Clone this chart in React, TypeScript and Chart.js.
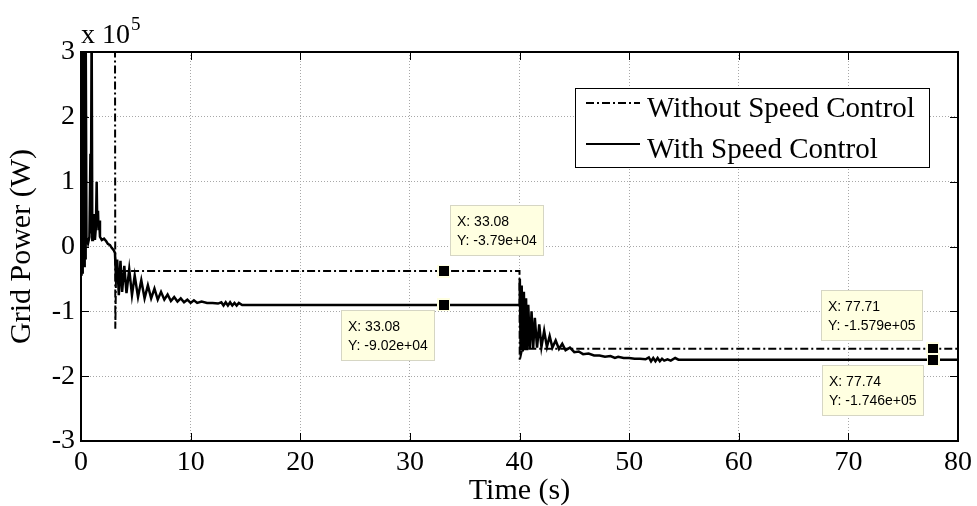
import React, { useEffect, useRef } from "react";
import { Chart, registerables } from "chart.js";

Chart.register(...registerables);

// ---------- data (power in units of 1e5 W, as on the axis) ----------
const withTime = [
  0, 0.02, 0.05, 0.08, 0.11, 0.14, 0.17, 0.2, 0.23, 0.26, 0.29, 0.32, 0.35, 0.38, 0.41, 0.44,
  0.5, 0.55, 0.64, 0.77, 0.86, 0.9, 0.97, 1.03, 1.09, 1.18, 1.27, 1.36, 1.43, 1.48, 1.55, 1.6, 1.66, 1.73, 1.9, 2.1, 2.3, 2.45, 2.65, 2.8, 3.0, 3.1,
  3.2, 3.3, 3.45, 3.6, 3.75, 3.95, 4.15, 4.4, 4.65, 4.9, 5.2, 5.5, 5.8, 6.1, 6.4, 6.7, 7.0, 7.3, 7.6, 7.9, 8.2, 8.5, 8.8, 9.1, 9.4, 9.7, 10.0, 10.3, 10.6, 11.0, 11.5, 12.0, 12.5, 12.8, 13.0, 13.2, 13.4, 13.6, 13.8, 14.0, 14.2, 14.4, 14.7, 40.0,
  40.03, 40.1, 40.2, 40.3, 40.4, 40.5, 40.6, 40.7, 40.8, 40.95, 41.1, 41.25, 41.4, 41.6, 41.8, 42.0, 42.25, 42.5, 42.75, 43.0, 43.3, 43.6, 43.9, 44.2, 44.6, 45.0, 45.4, 45.8, 46.3, 46.8, 47.3, 47.8, 48.3, 48.7, 49.0, 49.5, 50.0, 50.5, 51.0, 51.5, 51.8, 52.0, 52.2, 52.4, 52.6, 52.8, 53.0, 53.2, 53.5, 53.8, 54.2, 54.5, 80,
];
const withPower = [
  0, 3.5, -0.45, 3.5, -0.4, 3.5, -0.35, 3.5, -0.3, 3.5, -0.3, 3.5, -0.25, 3.5, -0.2, 3.5,
  0.05, 0.1, 0.05, 0.15, 1.43, 0.2, 3.5, 0.1, 0.15, 0.5, 0.1, 0.3, 1.0, 0.35, 0.55, 0.25, 0.4, 0.15, 0.1, 0.12, 0.08, 0.04, 0.02, -0.02, -0.06, -0.1,
  -0.55, -0.2, -0.75, -0.22, -0.7, -0.3, -0.72, -0.35, -0.75, -0.45, -0.78, -0.52, -0.8, -0.6, -0.8, -0.65, -0.82, -0.7, -0.82, -0.74, -0.84, -0.78, -0.85, -0.8, -0.86, -0.82, -0.87, -0.83, -0.87, -0.85, -0.87, -0.87, -0.88, -0.86, -0.91, -0.86, -0.91, -0.86, -0.91, -0.87, -0.91, -0.87, -0.902, -0.902,
  -0.5, -1.6, -0.6, -1.62, -0.7, -1.6, -0.8, -1.6, -0.9, -1.58, -1.0, -1.57, -1.1, -1.56, -1.2, -1.55, -1.3, -1.55, -1.38, -1.56, -1.45, -1.58, -1.5, -1.6, -1.56, -1.63, -1.62, -1.66, -1.65, -1.68, -1.68, -1.7, -1.69, -1.72, -1.7, -1.72, -1.72, -1.73, -1.73, -1.74, -1.71, -1.77, -1.72, -1.77, -1.72, -1.77, -1.73, -1.76, -1.74, -1.76, -1.72, -1.746, -1.746,
];
const withoutTime = [0, 3.1, 3.13, 3.2, 40.0, 40.02, 40.25, 80];
const withoutPower = [3.5, 3.5, -1.27, -0.379, -0.379, -1.76, -1.579, -1.579];

const seriesNames = ["Without Speed Control", "With Speed Control"];
const xTicks = [0, 10, 20, 30, 40, 50, 60, 70, 80];
const yTicks = [-3, -2, -1, 0, 1, 2, 3];
const yExponent = 5;

// data tips (X in s, Y in W)
const tipX = [33.08, 33.08, 77.71, 77.74];
const tipY = [-37900, -90200, -157900, -174600];
const tipPlacement = ["upper-right", "lower-left", "upper-left", "lower-left"];

const SERIF = "'Liberation Serif', 'Times New Roman', Times, serif";
const SANS = "'Liberation Sans', Arial, Helvetica, sans-serif";
const DASHDOT = [8, 3, 2, 3];

function fmtExp(v: number): string {
  const s = v.toExponential(3);
  let [m, e] = s.split("e");
  if (m.includes(".")) m = m.replace(/0+$/, "").replace(/\.$/, "");
  const sign = e[0] === "-" ? "-" : "+";
  const d = e.replace(/^[+-]/, "").padStart(2, "0");
  return `${m}e${sign}${d}`;
}

const overlayPlugin = {
  id: "overlay",
  afterDatasetsDraw(chart: any) {
    const { ctx, chartArea: a, scales } = chart;
    const x = scales.x;
    const y = scales.y;
    ctx.save();

    // inward tick marks on all four sides
    ctx.strokeStyle = "#000";
    ctx.lineWidth = 1;
    ctx.setLineDash([]);
    ctx.beginPath();
    xTicks.forEach((v) => {
      const px = Math.round(x.getPixelForValue(v)) + 0.5;
      ctx.moveTo(px, a.bottom);
      ctx.lineTo(px, a.bottom - 8);
      ctx.moveTo(px, a.top);
      ctx.lineTo(px, a.top + 8);
    });
    yTicks.forEach((v) => {
      const py = Math.round(y.getPixelForValue(v)) + 0.5;
      ctx.moveTo(a.left, py);
      ctx.lineTo(a.left + 8, py);
      ctx.moveTo(a.right, py);
      ctx.lineTo(a.right - 8, py);
    });
    ctx.stroke();

    // axes box
    ctx.lineWidth = 2;
    ctx.strokeRect(a.left, a.top, a.right - a.left, a.bottom - a.top);

    // exponent label
    ctx.fillStyle = "#000";
    ctx.textAlign = "left";
    ctx.textBaseline = "alphabetic";
    ctx.font = `28px ${SERIF}`;
    ctx.fillText("x 10", a.left, 43);
    const w10 = ctx.measureText("x 10").width;
    ctx.font = `19px ${SERIF}`;
    ctx.fillText(String(yExponent), a.left + w10 + 1, 30);

    // legend
    const L = { left: 575, right: 929, top: 88, bottom: 167 };
    ctx.fillStyle = "#fff";
    ctx.fillRect(L.left, L.top, L.right - L.left, L.bottom - L.top);
    ctx.lineWidth = 1;
    ctx.strokeStyle = "#000";
    ctx.strokeRect(L.left + 0.5, L.top + 0.5, L.right - L.left, L.bottom - L.top);
    const baselines = [117, 158];
    seriesNames.forEach((name, i) => {
      const bl = baselines[i];
      const ly = bl - 14;
      ctx.lineWidth = 2;
      ctx.setLineDash(i === 0 ? DASHDOT : []);
      ctx.beginPath();
      ctx.moveTo(586, ly);
      ctx.lineTo(640, ly);
      ctx.stroke();
      ctx.setLineDash([]);
      ctx.fillStyle = "#000";
      ctx.font = `29px ${SERIF}`;
      ctx.textBaseline = "alphabetic";
      ctx.fillText(name, 647, bl);
    });

    // data tips
    tipX.forEach((tx, i) => {
      const mx = x.getPixelForValue(tx);
      const my = y.getPixelForValue(tipY[i] / Math.pow(10, yExponent));
      const l1 = `X: ${tx.toFixed(2)}`;
      const l2 = `Y: ${fmtExp(tipY[i])}`;
      ctx.font = `14px ${SANS}`;
      const tw = Math.max(ctx.measureText(l1).width, ctx.measureText(l2).width);
      const bw = Math.round(tw + 14);
      const bh = 51;
      let bx = 0, by = 0;
      const p = tipPlacement[i];
      if (p === "upper-right") { bx = mx + 6; by = my - 15 - bh; }
      else if (p === "lower-left") { bx = mx - 9 - bw; by = my + 5; }
      else { bx = mx - 10 - bw; by = my - 8 - bh; }
      bx = Math.round(bx); by = Math.round(by);
      ctx.fillStyle = "#ffffe1";
      ctx.fillRect(bx, by, bw, bh);
      ctx.strokeStyle = "#d6d6c4";
      ctx.lineWidth = 1;
      ctx.strokeRect(bx + 0.5, by + 0.5, bw - 1, bh - 1);
      ctx.fillStyle = "#000";
      ctx.textBaseline = "middle";
      ctx.fillText(l1, bx + 7, by + 17);
      ctx.fillText(l2, bx + 7, by + 36);
      // marker
      ctx.fillStyle = "#ffffe1";
      ctx.fillRect(Math.round(mx - 6.5), Math.round(my - 6.5), 13, 13);
      ctx.fillStyle = "#000";
      ctx.fillRect(Math.round(mx - 5), Math.round(my - 5), 10, 10);
    });

    ctx.restore();
  },
};

export default function App() {
  const ref = useRef<HTMLCanvasElement | null>(null);

  useEffect(() => {
    document.body.style.margin = "0";
    document.body.style.overflow = "hidden";
    const canvas = ref.current;
    if (!canvas) return;
    const chart = new Chart(canvas, {
      type: "line",
      data: {
        datasets: [
          {
            label: seriesNames[0],
            data: withoutTime.map((t, i) => ({ x: t, y: withoutPower[i] })),
            borderColor: "#000",
            borderWidth: 2,
            borderDash: DASHDOT,
            pointRadius: 0,
            tension: 0,
            clip: 0,
          },
          {
            label: seriesNames[1],
            data: withTime.map((t, i) => ({ x: t, y: withPower[i] })),
            borderColor: "#000",
            borderWidth: 2.5,
            pointRadius: 0,
            tension: 0,
            clip: 0,
          },
        ],
      },
      options: {
        animation: false,
        responsive: false,
        maintainAspectRatio: false,
        devicePixelRatio: 1,
        layout: { padding: { top: 52, right: 16, bottom: 0, left: 0 } },
        plugins: { legend: { display: false }, tooltip: { enabled: false } },
        scales: {
          x: {
            type: "linear",
            min: 0,
            max: 80,
            afterBuildTicks: (s: any) => {
              s.ticks = xTicks.map((v) => ({ value: v }));
            },
            afterFit: (s: any) => {
              s.height = 65;
            },
            grid: { color: "#a8a8a8", lineWidth: 1, drawTicks: false },
            border: { display: false, dash: [1, 2] },
            ticks: {
              color: "#000",
              font: { family: SERIF, size: 28 },
              padding: 5,
              maxRotation: 0,
              autoSkip: false,
              callback: (v: any) => String(v),
            },
            title: {
              display: true,
              text: "Time (s)",
              color: "#000",
              font: { family: SERIF, size: 30, lineHeight: 1 },
              padding: 0,
            },
          },
          y: {
            type: "linear",
            min: -3,
            max: 3,
            afterBuildTicks: (s: any) => {
              s.ticks = yTicks.map((v) => ({ value: v }));
            },
            afterFit: (s: any) => {
              s.width = 81;
            },
            grid: { color: "#a8a8a8", lineWidth: 1, drawTicks: false },
            border: { display: false, dash: [1, 2] },
            ticks: {
              color: "#000",
              font: { family: SERIF, size: 28 },
              padding: 6,
              autoSkip: false,
              callback: (v: any) => String(v),
            },
            title: {
              display: true,
              text: "Grid Power (W)",
              color: "#000",
              font: { family: SERIF, size: 30, lineHeight: 1 },
              padding: { top: 7, bottom: 0 },
            },
          },
        },
      },
      plugins: [overlayPlugin],
    } as any);
    return () => chart.destroy();
  }, []);

  return (
    <div style={{ width: 977, height: 506, background: "#fff" }}>
      <canvas ref={ref} width={977} height={506} style={{ display: "block", width: 977, height: 506 }} />
    </div>
  );
}
